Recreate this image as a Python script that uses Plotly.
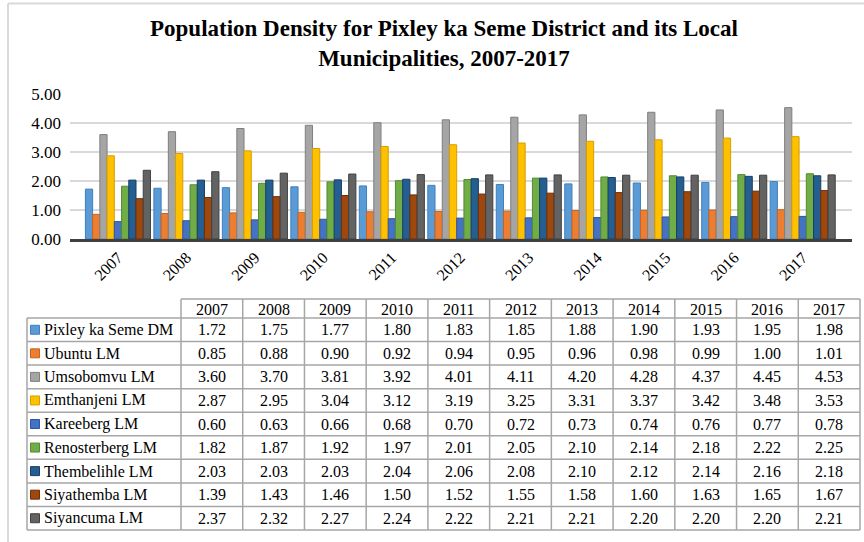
import plotly.graph_objects as go

years = ["2007", "2008", "2009", "2010", "2011", "2012", "2013", "2014", "2015", "2016", "2017"]

pixley_ka_seme_dm = [1.72, 1.75, 1.77, 1.80, 1.83, 1.85, 1.88, 1.90, 1.93, 1.95, 1.98]
ubuntu_lm = [0.85, 0.88, 0.90, 0.92, 0.94, 0.95, 0.96, 0.98, 0.99, 1.00, 1.01]
umsobomvu_lm = [3.60, 3.70, 3.81, 3.92, 4.01, 4.11, 4.20, 4.28, 4.37, 4.45, 4.53]
emthanjeni_lm = [2.87, 2.95, 3.04, 3.12, 3.19, 3.25, 3.31, 3.37, 3.42, 3.48, 3.53]
kareeberg_lm = [0.60, 0.63, 0.66, 0.68, 0.70, 0.72, 0.73, 0.74, 0.76, 0.77, 0.78]
renosterberg_lm = [1.82, 1.87, 1.92, 1.97, 2.01, 2.05, 2.10, 2.14, 2.18, 2.22, 2.25]
thembelihle_lm = [2.03, 2.03, 2.03, 2.04, 2.06, 2.08, 2.10, 2.12, 2.14, 2.16, 2.18]
siyathemba_lm = [1.39, 1.43, 1.46, 1.50, 1.52, 1.55, 1.58, 1.60, 1.63, 1.65, 1.67]
siyancuma_lm = [2.37, 2.32, 2.27, 2.24, 2.22, 2.21, 2.21, 2.20, 2.20, 2.20, 2.21]

series_names = ["Pixley ka Seme DM", "Ubuntu LM", "Umsobomvu LM", "Emthanjeni LM",
                "Kareeberg LM", "Renosterberg LM", "Thembelihle LM", "Siyathemba LM",
                "Siyancuma LM"]
series_values = [pixley_ka_seme_dm, ubuntu_lm, umsobomvu_lm, emthanjeni_lm, kareeberg_lm,
                 renosterberg_lm, thembelihle_lm, siyathemba_lm, siyancuma_lm]
series_colors = ["#5B9BD5", "#ED7D31", "#A5A5A5", "#FFC000", "#4472C4",
                 "#70AD47", "#255E91", "#9E480E", "#636363"]
edge_colors = ["#3F7FBF", "#C8631E", "#7F7F7F", "#D49F00", "#2F559E",
               "#548A33", "#163F66", "#6E3009", "#404040"]

W, H = 864, 542
SERIF = "Liberation Serif, Times New Roman, serif"


def px(x):
    return x / W


def py(y):
    return 1 - y / H


fig = go.Figure()

for name, vals, col, edge in zip(series_names, series_values, series_colors, edge_colors):
    fig.add_trace(go.Bar(
        x=years, y=vals, name=name,
        marker=dict(color=col, line=dict(color=edge, width=1)),
        showlegend=False, hoverinfo="x+y+name",
    ))

# ---- data table below the chart (grid shapes + text annotations) ----
TBL_L, LABEL_R, TBL_R = 27, 181, 860
HEAD_T, HEAD_B, TBL_B = 299, 318, 530
col_w = (TBL_R - LABEL_R) / len(years)
row_h = (TBL_B - HEAD_B) / len(series_names)
grid = dict(color="#A6A6A6", width=1.5)

shapes = [
    # light frame around the chart
    dict(type="line", xref="paper", yref="paper", x0=px(8), x1=1, y0=py(3.5), y1=py(3.5),
         line=dict(color="#D9D9D9", width=2)),
    dict(type="line", xref="paper", yref="paper", x0=px(8), x1=px(8), y0=0, y1=py(3.5),
         line=dict(color="#D9D9D9", width=2)),
]
annotations = []

# horizontal rules
shapes.append(dict(type="line", xref="paper", yref="paper", x0=px(LABEL_R), x1=px(TBL_R),
                   y0=py(HEAD_T), y1=py(HEAD_T), line=grid))
for r in range(len(series_names) + 1):
    y = HEAD_B + r * row_h
    shapes.append(dict(type="line", xref="paper", yref="paper", x0=px(TBL_L), x1=px(TBL_R),
                       y0=py(y), y1=py(y), line=grid))
# vertical rules
shapes.append(dict(type="line", xref="paper", yref="paper", x0=px(TBL_L), x1=px(TBL_L),
                   y0=py(HEAD_B), y1=py(TBL_B), line=grid))
for c in range(len(years) + 1):
    x = LABEL_R + c * col_w
    shapes.append(dict(type="line", xref="paper", yref="paper", x0=px(x), x1=px(x),
                       y0=py(HEAD_T), y1=py(TBL_B), line=grid))

cell_font = dict(family=SERIF, size=16, color="#000000")

# header row
for c, yr in enumerate(years):
    annotations.append(dict(xref="paper", yref="paper", x=px(LABEL_R + (c + 0.5) * col_w),
                            y=py((HEAD_T + HEAD_B) / 2 + 0.5), text=yr, showarrow=False,
                            xanchor="center", yanchor="middle", font=cell_font))

# body rows: legend key, series name, values
for r, (name, vals, col, edge) in enumerate(zip(series_names, series_values,
                                                 series_colors, edge_colors)):
    yc = HEAD_B + (r + 0.5) * row_h
    shapes.append(dict(type="rect", xref="paper", yref="paper",
                       x0=px(30.5), x1=px(39.5), y0=py(yc + 4.5), y1=py(yc - 4.5),
                       fillcolor=col, line=dict(color=edge, width=1)))
    annotations.append(dict(xref="paper", yref="paper", x=px(41.5), y=py(yc), text=name,
                            showarrow=False, xanchor="left", yanchor="middle", font=cell_font))
    for c, v in enumerate(vals):
        annotations.append(dict(xref="paper", yref="paper", x=px(LABEL_R + (c + 0.5) * col_w),
                                y=py(yc), text=f"{v:.2f}", showarrow=False,
                                xanchor="center", yanchor="middle", font=cell_font))

fig.update_layout(
    width=W, height=H,
    margin=dict(l=0, r=0, t=0, b=0, pad=0, autoexpand=False),
    paper_bgcolor="white", plot_bgcolor="white",
    barmode="group", bargap=0.05, bargroupgap=0,
    title=dict(
        text="<b>Population Density for Pixley ka Seme District and its Local<br>Municipalities, 2007-2017</b>",
        x=px(444), xanchor="center", y=py(36), yanchor="middle", automargin=False,
        font=dict(family=SERIF, size=23, color="#000000"),
    ),
    xaxis=dict(
        domain=[px(70), px(852)], range=[-0.7, 10.72], type="category",
        showline=True, linecolor="#404040", linewidth=3, automargin=False,
        showgrid=False, tickangle=-45, ticks="",
        tickfont=dict(family=SERIF, size=16, color="#000000"),
    ),
    yaxis=dict(
        domain=[py(239), py(94)], range=[0, 5], dtick=1, automargin=False,
        tickformat=".2f", showgrid=True, gridcolor="#D9D9D9", gridwidth=1.5,
        zeroline=False, showline=False, ticks="", ticklabelstandoff=8,
        tickfont=dict(family=SERIF, size=17, color="#000000"),
    ),
    shapes=shapes,
    annotations=annotations,
)

fig.write_html("out.html")
